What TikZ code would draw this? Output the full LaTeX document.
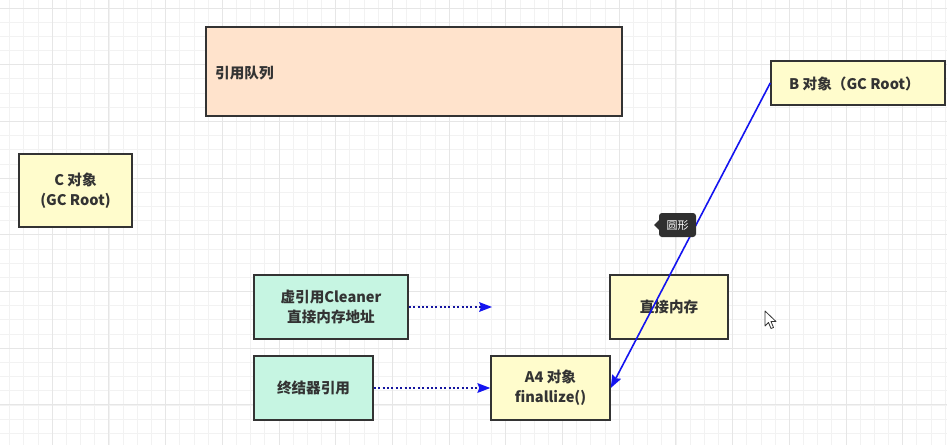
\documentclass[tikz,border=0pt]{standalone}
\usepackage{fontspec}
\setmainfont{Noto Sans CJK SC}
\usetikzlibrary{arrows.meta}
\definecolor{gridmin}{HTML}{F2F2F2}
\definecolor{gridmaj}{HTML}{E6E6E6}
\definecolor{peach}{HTML}{FFE3CC}
\definecolor{lyellow}{HTML}{FFFCCC}
\definecolor{mint}{HTML}{C6F5E2}
\definecolor{edge}{HTML}{333333}
\definecolor{txt}{HTML}{333333}
\definecolor{navy}{HTML}{1515A0}
\definecolor{bblue}{HTML}{1414F0}
\tikzset{
  boxfont/.style={font=\fontsize{14.6}{20}\selectfont\bfseries},
  boxnode/.style={draw=edge, line width=1.5pt, text=txt, boxfont, align=center, inner sep=0pt},
  dotarrow/.style={draw=navy, line width=1.8pt, dash pattern=on 2pt off 2.4pt, -{Stealth[length=13pt,width=10pt,inset=2pt,fill=bblue,color=bblue,line width=0pt]}},
  solidarrow/.style={draw=bblue, line width=1.6pt, -{Stealth[length=13pt,width=10pt,inset=2pt,fill=bblue,line width=0pt]}},
}
\begin{document}
\begin{tikzpicture}[x=1pt,y=-1pt]
\useasboundingbox (0,0) rectangle (947,445);
\fill[white] (0,0) rectangle (947,445);
% grid
\foreach \i in {0,...,67} {
  \pgfmathsetmacro\xx{-4.5+14.175*\i}
  \draw[gridmin, line width=0.8pt] (\xx,0) -- (\xx,445);
}
\foreach \i in {0,...,31} {
  \pgfmathsetmacro\yy{8+14.175*\i}
  \draw[gridmin, line width=0.8pt] (0,\yy) -- (947,\yy);
}
\foreach \i in {0,...,17} {
  \pgfmathsetmacro\xx{-4.5+56.7*\i}
  \draw[gridmaj, line width=1pt] (\xx,0) -- (\xx,445);
}
\foreach \i in {0,...,7} {
  \pgfmathsetmacro\yy{8+56.7*\i}
  \draw[gridmaj, line width=1pt] (0,\yy) -- (947,\yy);
}
% boxes
\node[boxnode, fill=peach, minimum width=416pt, minimum height=89pt] (queue) at (414,71.5) {};
\node[anchor=west, text=txt, boxfont, inner sep=0pt] (queuelbl) at (215,73) {引用队列};
\node[boxnode, fill=lyellow, minimum width=113pt, minimum height=73pt] (c) at (75.5,190.5) {C 对象\\(GC Root)};
\node[boxnode, fill=lyellow, minimum width=174pt, minimum height=44pt] (b) at (858,83) {};
\node[anchor=west, text=txt, boxfont, inner sep=0pt] (blbl) at (789,84) {B 对象（GC Root）};
\node[boxnode, fill=mint, minimum width=154pt, minimum height=64pt] (cleaner) at (331,307) {虚引用Cleaner\\直接内存地址};
\node[boxnode, fill=lyellow, minimum width=118pt, minimum height=64pt] (mem) at (669,307) {直接内存};
\node[boxnode, fill=mint, minimum width=119pt, minimum height=64pt] (final) at (313.5,388) {终结器引用};
\node[boxnode, fill=lyellow, minimum width=119pt, minimum height=64pt] (a4) at (550.5,388) {A4 对象\\finallize()};
\coordinate (free) at (492,307);
% connectors
\draw[dotarrow] (cleaner.east) -- (free);
\draw[dotarrow] (final.east) -- (a4.west);
\draw[solidarrow] (b.west) -- (a4.east);
% tooltip
\fill[edge!95!black, rounded corners=3pt] (659,213) rectangle (696,237);
\fill[edge!95!black] (659,220) -- (654,225) -- (659,230) -- cycle;
\node[text=white, font=\fontsize{11}{13}\selectfont, inner sep=0pt] (tip) at (677.5,225) {圆形};
% cursor
\draw[fill=white, draw=edge, line width=0.8pt, line join=round] (765,311) -- (765,326) -- (768.5,322.5) -- (771,328.5) -- (773.5,327.5) -- (771,321.5) -- (776,321.5) -- cycle;
\end{tikzpicture}
\end{document}
